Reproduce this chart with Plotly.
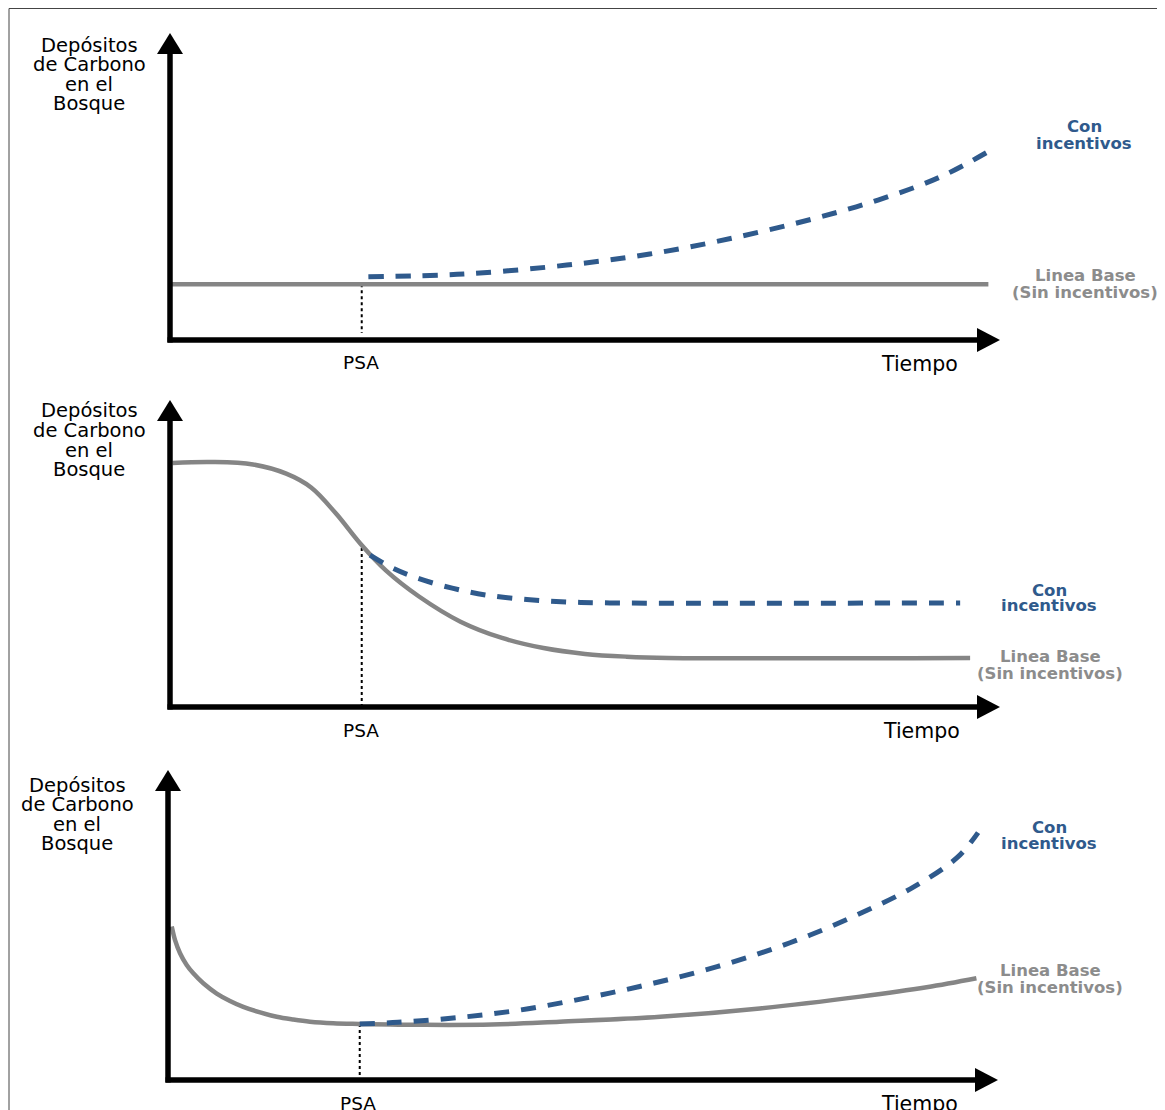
import plotly.graph_objects as go

# Figure is placed by the page 8px from the window's top-left (default body margin)
OFF = 8
W, H = 1149, 1102

# ---------------- data (conceptual units 0-100 on each panel) ----------------
# Panel 1: flat baseline, incentive path rising after PSA
p1_base_x = [0.0, 98.6]
p1_base_y = [18.2, 18.2]
p1_inc_x = [23.9, 35.4, 47.8, 57.8, 67.8, 77.8, 85.3, 92.8, 99.5]
p1_inc_y = [20.6, 21.5, 24.4, 28.0, 33.2, 39.7, 45.6, 53.1, 62.8]
p1_psa_x = 23.1

# Panel 2: declining baseline, incentive path levelling higher
p2_base_x = [0.3, 5.0, 10.0, 14.0, 17.0, 20.0, 23.0, 26.0, 30.0, 35.0, 40.0, 45.0, 50.0, 55.0, 60.0, 96.4]
p2_base_y = [79.5, 79.8, 79.0, 76.0, 71.5, 63.0, 53.0, 44.5, 36.0, 27.8, 22.5, 19.2, 17.3, 16.4, 16.0, 16.0]
p2_inc_x = [24.1, 27.0, 30.0, 34.0, 38.0, 43.0, 48.0, 53.0, 95.2]
p2_inc_y = [49.5, 45.0, 41.8, 38.7, 36.5, 35.0, 34.2, 33.9, 33.9]
p2_psa_x = 23.1

# Panel 3: baseline drops then slowly recovers, incentive path recovers faster
p3_base_x = [0.45, 0.84, 1.45, 2.25, 3.05, 4.25, 5.87, 7.47, 9.07, 11.1, 13.1, 15.1, 17.1, 19.9,
             23.1, 31.0, 39.0, 47.2, 59.3, 71.3, 83.4, 91.4, 97.4]
p3_base_y = [49.5, 45.2, 40.9, 37.1, 34.4, 31.2, 27.9, 25.5, 23.6, 21.8, 20.4, 19.5, 18.8, 18.3,
             18.1, 17.8, 17.9, 18.8, 20.4, 23.1, 26.9, 29.9, 32.8]
p3_inc_x = [23.1, 27.7, 35.2, 42.5, 49.7, 56.7, 63.8, 70.8, 77.3, 83.7, 89.8, 95.1, 97.6]
p3_inc_y = [18.1, 18.6, 20.2, 22.6, 26.1, 30.1, 34.8, 40.4, 46.7, 54.1, 62.2, 71.8, 79.8]
p3_psa_x = 23.1

y_label_lines = ["Depósitos", "de Carbono", "en el", "Bosque"]
psa_label = "PSA"
time_label = "Tiempo"
inc_label_lines = ["Con", "incentivos"]
base_label_lines = ["Linea Base", "(Sin incentivos)"]

# ---------------- styling / layout geometry (window pixels) ----------------
GRAY = "#858585"
BLUE = "#2F5A8C"
TXT_GRAY = "#8C8C8C"
FONT = "DejaVu Sans"

# origin_x, origin_y, tip_x, tip_y for each panel
panels = [
    dict(ox=170, oy=340, tx=1000, ty=33),
    dict(ox=170, oy=707, tx=1000, ty=400),
    dict(ox=168, oy=1080, tx=998, ty=770),
]

def px(x):
    return (x - OFF) / W

def py(y):
    return 1 - (y - OFF) / H

fig = go.Figure()
layout_axes = {}
shapes = []
annotations = []

data = [
    (p1_base_x, p1_base_y, p1_inc_x, p1_inc_y, p1_psa_x, p1_base_y[0], 2.3),
    (p2_base_x, p2_base_y, p2_inc_x, p2_inc_y, p2_psa_x, 51.8, 0.0),
    (p3_base_x, p3_base_y, p3_inc_x, p3_inc_y, p3_psa_x, 18.1, 1.6),
]

label_pos = [
    dict(ylab=(89, [45, 64.5, 84, 103.5]), psa=(361, 363), tiempo=(919, 364),
         inc=(1084, [126, 143]), base=(1085, [275, 292])),
    dict(ylab=(89, [411, 430.5, 450, 469.5]), psa=(361, 730), tiempo=(921, 731),
         inc=(1049, [590, 606]), base=(1050, [656, 673])),
    dict(ylab=(77, [785, 804.5, 824, 843.5]), psa=(358, 1103), tiempo=(919, 1104),
         inc=(1049, [827, 843]), base=(1050, [970, 987])),
]

for i, (g, d, lp) in enumerate(zip(panels, data, label_pos)):
    n = "" if i == 0 else str(i + 1)
    sx = (g["tx"] - g["ox"]) / 100.0
    sy = (g["oy"] - g["ty"]) / 100.0
    xdom = [px(g["ox"] - 5 * sx), px(g["tx"] + 5 * sx)]
    ydom = [py(g["oy"] + 5 * sy), py(g["ty"] - 5 * sy)]
    layout_axes["xaxis" + n] = dict(domain=xdom, range=[-5, 105], visible=False,
                                    anchor="y" + n, fixedrange=True)
    layout_axes["yaxis" + n] = dict(domain=ydom, range=[-5, 105], visible=False,
                                    anchor="x" + n, fixedrange=True)
    bx, by, ix, iy, psa, psa_top, psa_bot = d
    xr, yr = "x" + n, "y" + n
    # PSA dotted marker line
    fig.add_trace(go.Scatter(x=[psa, psa], y=[psa_top, psa_bot], mode="lines",
                             line=dict(color="black", width=2, dash="3px,3px"),
                             xaxis=xr, yaxis=yr, showlegend=False, hoverinfo="skip"))
    # baseline
    fig.add_trace(go.Scatter(x=bx, y=by, mode="lines",
                             line=dict(color=GRAY, width=4.5, shape="spline", smoothing=1.0),
                             xaxis=xr, yaxis=yr, showlegend=False, name="Linea Base"))
    # with incentives
    fig.add_trace(go.Scatter(x=ix, y=iy, mode="lines",
                             line=dict(color=BLUE, width=5, dash="15px,12px",
                                       shape="spline", smoothing=1.0),
                             xaxis=xr, yaxis=yr, showlegend=False, name="Con incentivos"))

    # axis arrows (decoration)
    ox, oy, tx, ty = g["ox"], g["oy"], g["tx"], g["ty"]
    shapes.append(dict(type="line", xref="paper", yref="paper",
                       x0=px(ox), y0=py(oy + 2.5), x1=px(ox), y1=py(ty + 18),
                       line=dict(color="black", width=5.5)))
    shapes.append(dict(type="line", xref="paper", yref="paper",
                       x0=px(ox - 2.5), y0=py(oy), x1=px(tx - 18), y1=py(oy),
                       line=dict(color="black", width=5.5)))
    shapes.append(dict(type="path", xref="paper", yref="paper",
                       path=f"M {px(ox)},{py(ty)} L {px(ox - 13)},{py(ty + 21)} L {px(ox + 13)},{py(ty + 21)} Z",
                       fillcolor="black", line=dict(width=0)))
    shapes.append(dict(type="path", xref="paper", yref="paper",
                       path=f"M {px(tx)},{py(oy)} L {px(tx - 23)},{py(oy - 12)} L {px(tx - 23)},{py(oy + 12)} Z",
                       fillcolor="black", line=dict(width=0)))

    # texts
    cx, ys = lp["ylab"]
    for t, yy in zip(y_label_lines, ys):
        annotations.append(dict(text=t, x=px(cx), y=py(yy), xref="paper", yref="paper",
                                xanchor="center", yanchor="middle", showarrow=False,
                                font=dict(family=FONT, size=19.5, color="black")))
    annotations.append(dict(text=psa_label, x=px(lp["psa"][0]), y=py(lp["psa"][1]),
                            xref="paper", yref="paper", xanchor="center", yanchor="middle",
                            showarrow=False, font=dict(family=FONT, size=18.5, color="black")))
    annotations.append(dict(text=time_label, x=px(lp["tiempo"][0]), y=py(lp["tiempo"][1]),
                            xref="paper", yref="paper", xanchor="center", yanchor="middle",
                            showarrow=False, font=dict(family=FONT, size=20.5, color="black")))
    cx, ys = lp["inc"]
    for t, yy in zip(inc_label_lines, ys):
        annotations.append(dict(text=f"<b>{t}</b>", x=px(cx), y=py(yy), xref="paper", yref="paper",
                                xanchor="center", yanchor="middle", showarrow=False,
                                font=dict(family=FONT, size=16.5, color=BLUE)))
    cx, ys = lp["base"]
    for t, yy in zip(base_label_lines, ys):
        annotations.append(dict(text=f"<b>{t}</b>", x=px(cx), y=py(yy), xref="paper", yref="paper",
                                xanchor="center", yanchor="middle", showarrow=False,
                                font=dict(family=FONT, size=16.5, color=TXT_GRAY)))

# outer frame (top and left edges visible)
shapes.append(dict(type="line", xref="paper", yref="paper", x0=px(9), y0=py(8.5), x1=1, y1=py(8.5),
                   line=dict(color="#444444", width=1)))
shapes.append(dict(type="line", xref="paper", yref="paper", x0=px(9), y0=py(8.5), x1=px(9), y1=0,
                   line=dict(color="#444444", width=1)))

fig.update_layout(
    width=W, height=H,
    margin=dict(l=0, r=0, t=0, b=0),
    paper_bgcolor="white", plot_bgcolor="rgba(0,0,0,0)",
    showlegend=False,
    shapes=shapes,
    annotations=annotations,
    **layout_axes,
)

fig.write_html("out.html")
